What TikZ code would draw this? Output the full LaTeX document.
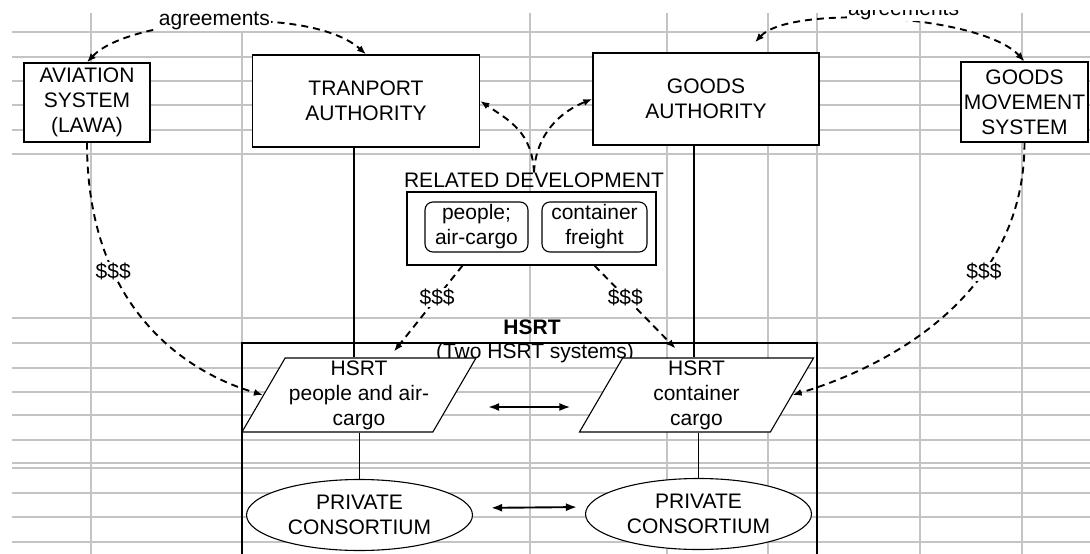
\documentclass[tikz,border=0pt]{standalone}
\usepackage{fontspec}
\setmainfont{Liberation Sans}
\usetikzlibrary{calc,arrows.meta,shapes.geometric}
\definecolor{gridgray}{HTML}{C4C4C4}

\begin{document}
\begin{tikzpicture}[x=1pt,y=-1pt,>={Latex[length=11pt,width=8pt]},
    font=\fontsize{21}{25}\selectfont,
    authbox/.style={draw,line width=1.4pt,fill=white,inner sep=0pt,align=center},
    subbox/.style={draw,line width=1.1pt,fill=white,rounded corners=8pt,inner sep=0pt,align=center,minimum height=50},
    hsrtbox/.style={draw,line width=1.1pt,fill=white,trapezium,trapezium left angle=58,trapezium right angle=122,
        trapezium stretches body,minimum width=234,minimum height=74,inner sep=0pt,align=center},
    consbox/.style={draw,line width=1.1pt,fill=white,ellipse,inner sep=0pt,align=center,minimum width=226,minimum height=71},
    flow/.style={line width=1.9pt,dash pattern=on 7pt off 5pt,-{Latex[length=9pt,width=7pt]}},
    money/.style={fill=white,inner sep=1pt},
    gridline/.style={line width=2pt,gridgray}]
    \useasboundingbox (0,0) rectangle (1090,554);
    \clip (0,10) rectangle (1090,554);

    % sheet grid
    \foreach \y in {32,57,81,105,130,154,318,343,368,392,415,440,463,468,493,517,542}
        \draw[gridline] (12,\y) -- (1090,\y);
    \foreach \x in {91,242,530,667,768,817,920,1022}
        \draw[gridline] (\x,13) -- (\x,554);

    % HSRT frame
    \draw[line width=2.2pt] (242,560) -- (242,343) -- (817,343) -- (817,560);
    \node[font=\fontsize{21}{25}\bfseries] (hsrtlabel) at (532,327) {HSRT};
    \node (twolabel) at (535,353) {(Two HSRT systems)};

    \node[authbox,minimum width=126,minimum height=79] (aviation) at (87,102.5) {AVIATION\\SYSTEM\\(LAWA)};
    \node[authbox,minimum width=227,minimum height=92] (transport) at (366,101) {TRANPORT\\AUTHORITY};
    \node[authbox,minimum width=226,minimum height=92] (goods) at (706,99) {GOODS\\AUTHORITY};
    \node[authbox,minimum width=127,minimum height=80] (movement) at (1024.5,102) {GOODS\\MOVEMENT\\SYSTEM};

    \node[inner sep=0pt] (rellabel) at (534,180) {RELATED DEVELOPMENT};
    \node[authbox,line width=1.2pt,minimum width=249,minimum height=73] (relbox) at (531.5,228.5) {};
    \node[subbox,minimum width=103] (people) at (476.5,227) {people;\\air-cargo};
    \node[subbox,minimum width=105] (container) at (594.5,227) {container\\freight};

    \node[hsrtbox] (hsrtA) at (359,395) {HSRT\\people and air-\\cargo};
    \node[hsrtbox] (hsrtB) at (696.5,395) {HSRT\\container\\cargo};
    \node[consbox] (consA) at (359.5,515) {PRIVATE\\CONSORTIUM};
    \node[consbox] (consB) at (698.5,514) {PRIVATE\\CONSORTIUM};

    % solid links
    \draw[line width=1.2pt] ([xshift=-12pt]transport.south) -- ([xshift=-12pt]transport.south |- hsrtA.north);
    \draw[line width=1.2pt] ([xshift=-12pt]goods.south) -- ([xshift=-12pt]goods.south |- hsrtB.north);
    \draw[line width=1.2pt] (consA.north |- hsrtA.south) -- (consA.north);
    \draw[line width=1.2pt] (consB.north |- hsrtB.south) -- (consB.north);
    \draw[<->,line width=1.9pt,shorten <=33pt,shorten >=30pt] ([yshift=-12pt]hsrtA.east) -- ([yshift=-12pt]hsrtB.west);
    \draw[<->,line width=1.9pt,shorten <=18pt,shorten >=8pt] ([yshift=7pt]consA.east) -- ([yshift=7pt]consB.west);

    % agreements
    \draw[flow,{Latex[length=9pt,width=7pt]}-{Latex[length=9pt,width=7pt]}] (aviation.north)
        .. controls +(42,-45) and +(-56,-50) .. (transport.north)
        node[money,pos=.48,yshift=2pt] {agreements};
    \draw[flow,{Latex[length=9pt,width=7pt]}-{Latex[length=9pt,width=7pt]}] ([xshift=49pt,yshift=10pt]goods.north)
        .. controls +(35,-38) and +(-44,-47) .. (movement.north)
        node[money,pos=.55,yshift=10pt] {agreements};

    % related development
    \draw[flow] (rellabel.north) .. controls +(-2,-40) and +(30,20) .. (transport.east);
    \draw[flow] (rellabel.north) .. controls +(2,-40) and +(-30,12) .. (goods.west);

    % money
    \draw[flow] (aviation.south) .. controls +(0,158) and +(-85,-25) .. (hsrtA.west)
        node[money,pos=.33] {\$\$\$};
    \draw[flow] (movement.south) .. controls +(0,158) and +(85,-25) .. (hsrtB.east)
        node[money,pos=.33] {\$\$\$};
    \draw[flow] ([xshift=-14pt]people.south |- relbox.south) -- ([xshift=35pt,yshift=6pt]hsrtA.north)
        node[money,pos=.37] {\$\$\$};
    \draw[flow] (container.south |- relbox.south) -- ([xshift=-21pt,yshift=9pt]hsrtB.north)
        node[money,pos=.38] {\$\$\$};
\end{tikzpicture}
\end{document}
